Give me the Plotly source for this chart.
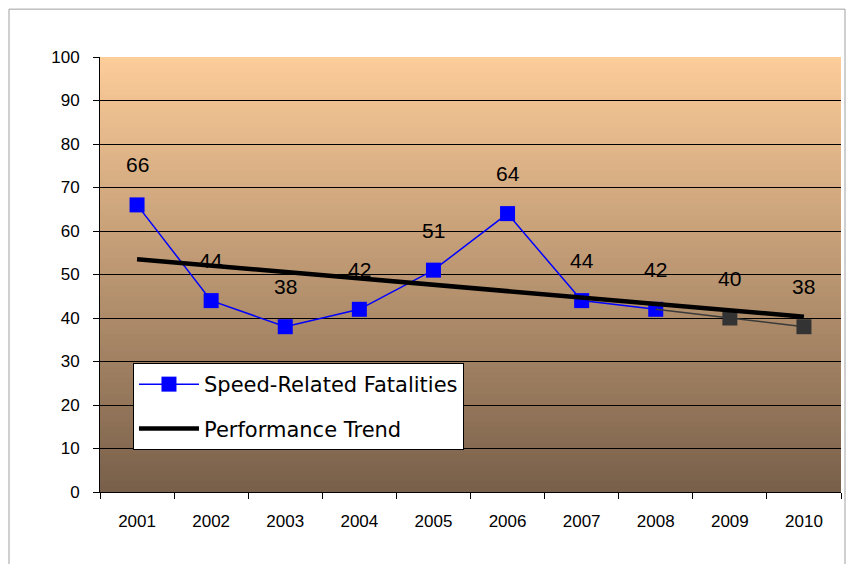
import plotly.graph_objects as go

# Data
years = ["2001", "2002", "2003", "2004", "2005", "2006", "2007", "2008", "2009", "2010"]
fatalities = [66, 44, 38, 42, 51, 64, 44, 42, 40, 38]
n_blue = 8  # 2001-2008 drawn in blue, the rest in grey
trend_years = ["2001", "2010"]
trend_values = [53.5, 40.3]
y_ticks = [0, 10, 20, 30, 40, 50, 60, 70, 80, 90, 100]

font_family = "Arial, Liberation Sans, sans-serif"

fig = go.Figure()

# Blue part of the series
fig.add_trace(go.Scatter(
    x=years[:n_blue], y=fatalities[:n_blue], mode="lines+markers",
    name="Speed-Related Fatalities", legendgroup="a",
    line=dict(color="#0000FF", width=1.5),
    marker=dict(symbol="square", size=15, color="#0000FF"),
))

# Grey continuation for the last years
fig.add_trace(go.Scatter(
    x=years[n_blue - 1:], y=fatalities[n_blue - 1:], mode="lines+markers",
    showlegend=False,
    line=dict(color="#3a3a3a", width=1.5),
    marker=dict(symbol="square", size=15, color=["rgba(0,0,0,0)"] + ["#333333"] * (len(years) - n_blue),
                line=dict(width=0)),
))

# Trend line
fig.add_trace(go.Scatter(
    x=trend_years, y=trend_values, mode="lines",
    name="Performance Trend", legendgroup="b",
    line=dict(color="black", width=4.5),
))

# Value labels above each point
for i, v in enumerate(fatalities):
    fig.add_annotation(xref="x", yref="y", x=i, y=v, text=str(v), showarrow=False, yshift=40,
                       font=dict(size=21, color="black", family=font_family))

# Gradient background for the plot area, built from overlapping thin strips
top = (252, 204, 153)
bottom = (121, 96, 74)
n_strips = 80
for i in range(n_strips):
    t = i / (n_strips - 1)
    c = tuple(round(top[k] + (bottom[k] - top[k]) * t) for k in range(3))
    y1 = 100 - 100 * i / n_strips
    y0 = max(0, 100 - 100 * (i + 1) / n_strips - 0.6)
    fig.add_shape(type="rect", xref="paper", yref="y", x0=0, x1=1, y0=y0, y1=y1,
                  fillcolor="rgb(%d,%d,%d)" % c, line=dict(width=0), layer="below")

# Outer chart frame
fig.add_shape(type="rect", xref="paper", yref="paper", x0=-0.1228, x1=1.0054, y0=-0.2, y1=1.11,
              line=dict(color="#a0a0a0", width=1), fillcolor="rgba(0,0,0,0)", layer="below")

fig.update_layout(
    width=854, height=564,
    margin=dict(l=92, r=21, t=49, b=80),
    paper_bgcolor="white",
    plot_bgcolor="rgba(0,0,0,0)",
    font=dict(family=font_family, color="black"),
    showlegend=True,
    legend=dict(
        x=0.0445, y=0.2966, xanchor="left", yanchor="top",
        bgcolor="white", bordercolor="black", borderwidth=1,
        font=dict(size=21, family="DejaVu Sans", color="black"),
        itemwidth=60, tracegroupgap=14,
    ),
    xaxis=dict(
        type="category", categoryorder="array", categoryarray=years,
        range=[-0.5, 9.5], tickson="boundaries", ticks="outside", ticklen=6,
        tickcolor="black", showline=True, linecolor="black", linewidth=1,
        showgrid=False, tickfont=dict(size=17), ticklabelstandoff=14, fixedrange=True,
    ),
    yaxis=dict(
        range=[0, 100], tickvals=y_ticks, ticks="outside", ticklen=6,
        tickcolor="black", showline=True, linecolor="black", linewidth=1,
        showgrid=True, gridcolor="black", gridwidth=1, zeroline=False,
        tickfont=dict(size=17), ticklabelstandoff=10, fixedrange=True,
    ),
)

fig.write_html("out.html")
